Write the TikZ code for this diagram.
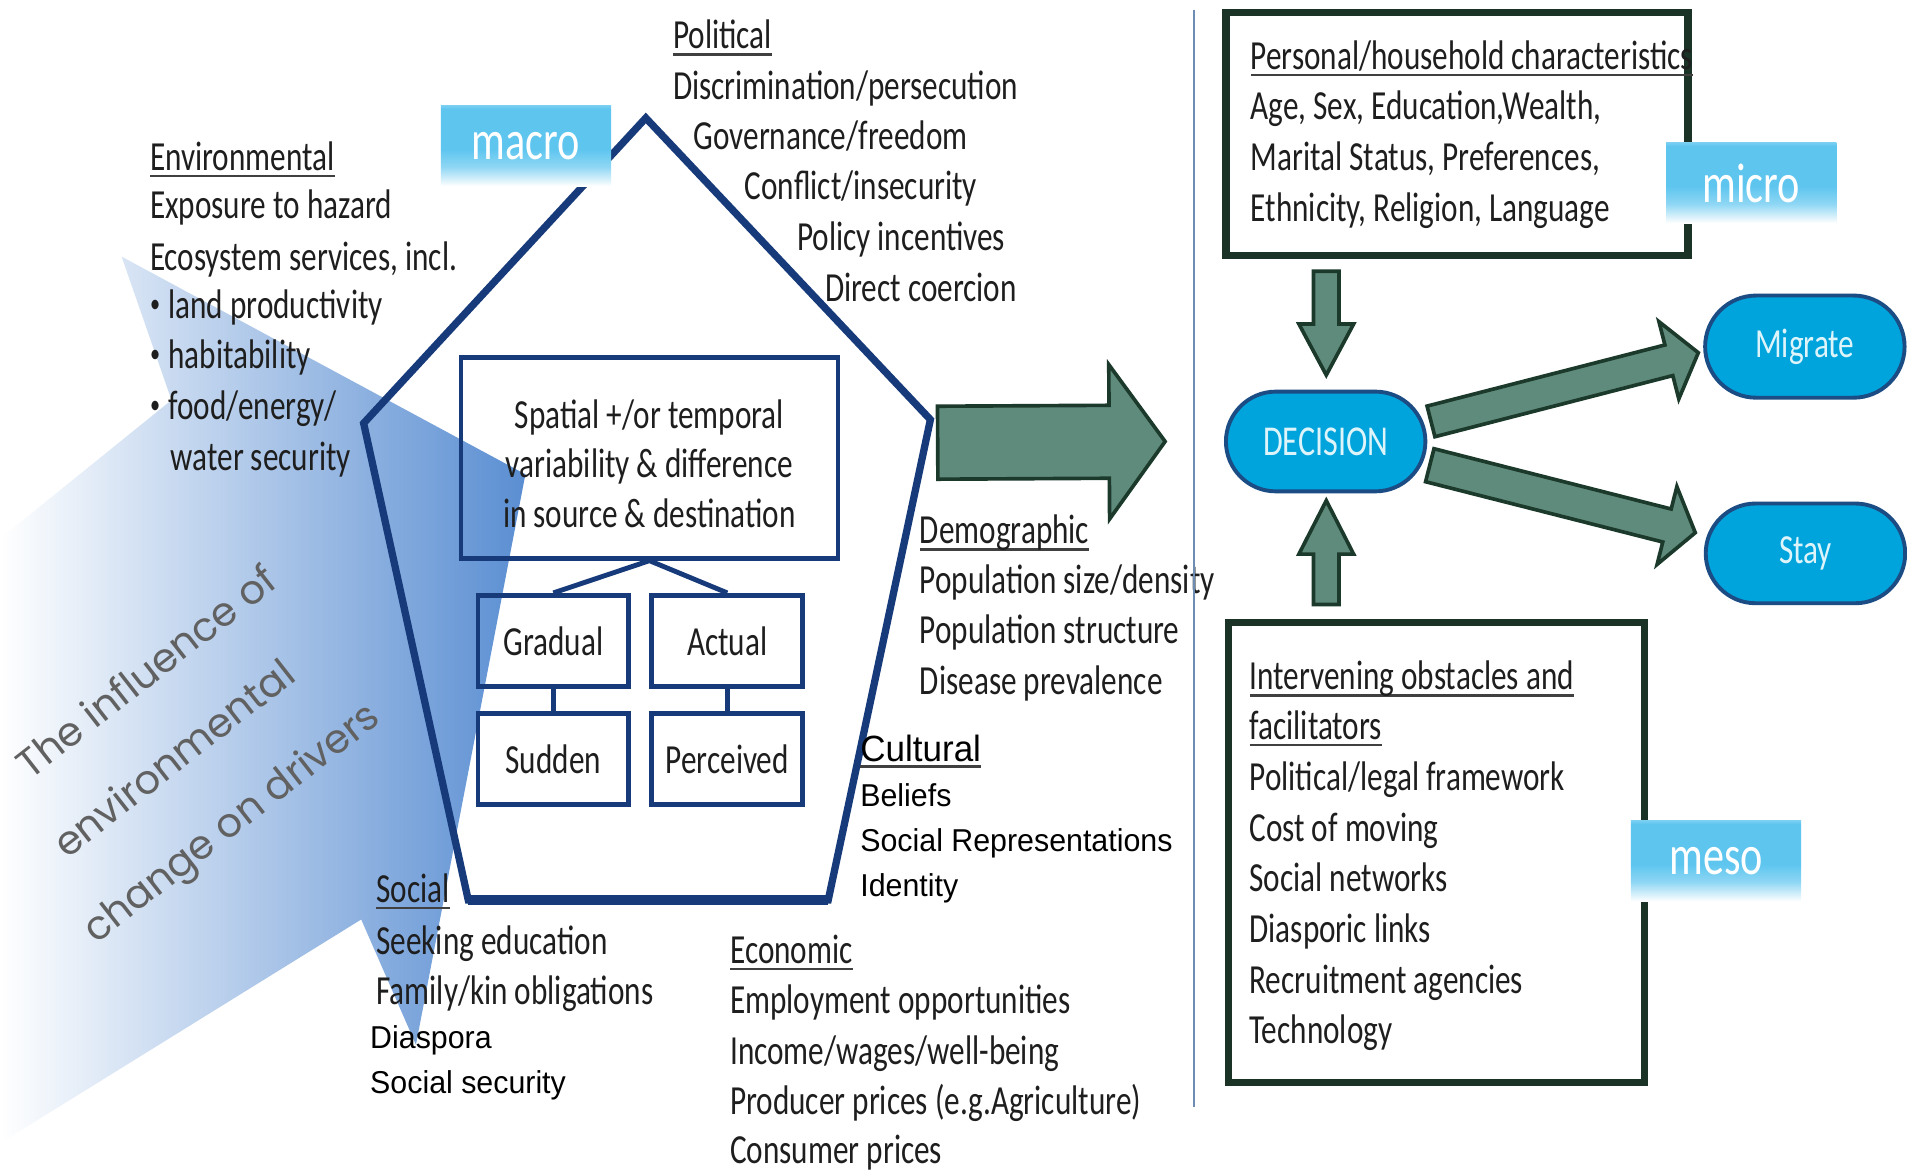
\documentclass[tikz,border=0pt]{standalone}
\usepackage{fontspec}
\setmainfont{Carlito}[FakeStretch=0.755]
\newfontfamily\arialfont{Liberation Sans}[FakeStretch=0.96]
\newfontfamily\gothicfont{Poppins}
\usetikzlibrary{calc,shapes.misc}
\definecolor{navy}{HTML}{173B7A}
\definecolor{arrowfill}{HTML}{5F8B7D}
\definecolor{arrowline}{HTML}{1C3A2C}
\definecolor{boxline}{HTML}{1A3326}
\definecolor{pillfill}{HTML}{00A4DD}
\definecolor{pillline}{HTML}{1B4C84}
\definecolor{lbl}{HTML}{5EC5EF}
\definecolor{shapeblue}{HTML}{5A8ED2}
\definecolor{txtcol}{HTML}{1E1E1E}
\definecolor{divider}{HTML}{6F8DB3}
\definecolor{pilltext}{HTML}{DDF4FB}
\pgfdeclareverticalshading{lblshade}{100bp}{color(0bp)=(white); color(25bp)=(white); color(37bp)=(lbl!70); color(48bp)=(lbl); color(73bp)=(lbl); color(75bp)=(lbl!85); color(100bp)=(lbl!85)}
\newcommand\uln[1]{\setbox0=\hbox{#1}\rlap{\color{black!75}\rule[-0.17em]{\wd0}{0.06em}}\box0}
\newcommand\smbul{\raisebox{0.14em}{\fontsize{11}{11}\selectfont\textbullet}\hspace{0.2em}}
\newcommand\blkarrow[6]{%
  \coordinate (#6h) at ($(#2)!#5!(#1)$);
  \filldraw[blockarrow] ($(#1)!#3!90:(#2)$) -- ($(#6h)!#3!-90:(#1)$) -- ($(#6h)!#4!-90:(#1)$) -- (#2) -- ($(#6h)!#4!90:(#1)$) -- ($(#6h)!#3!90:(#1)$) -- ($(#1)!#3!-90:(#2)$) -- cycle;}
\tikzset{
  mtext/.style={inner sep=0pt, anchor=base west, text=txtcol, font=\fontsize{17}{20.75}\selectfont},
  atext/.style={inner sep=0pt, anchor=base west, text=black, font=\arialfont\fontsize{13}{18.5}\selectfont},
  rtext/.style={inner sep=0pt, anchor=base west, rotate=38, align=left, text=black!62, font=\gothicfont\fontsize{16.5}{35}\selectfont},
  blockarrow/.style={fill=arrowfill, draw=arrowline, line width=1.5pt, line join=miter},
  subbox/.style={draw=navy, line width=2pt, minimum width=62pt, minimum height=37.5pt, inner sep=0pt, text=txtcol, font=\fontsize{17}{20}\selectfont},
  bigbox/.style={draw=boxline, line width=3pt, inner sep=0pt},
  pill/.style={rounded rectangle, draw=pillline, fill=pillfill, line width=1.6pt, minimum width=82pt, minimum height=41pt, inner sep=0pt, text=pilltext, font=\fontsize{17}{17}\selectfont},
  lblbox/.style={shade, shading=lblshade, minimum width=70pt, minimum height=33pt, inner sep=0pt, text=white, font=\fontsize{23}{23}\selectfont},
}
\begin{document}
\begin{tikzpicture}[x=0.5pt, y=-0.5pt]
\useasboundingbox (0,0) rectangle (1568,964.5);
\fill[white] (0,0) rectangle (1568,964.5);
% big blue shape
\shade[left color=white, middle color=shapeblue!55, right color=shapeblue]
  (0,443) -- (141,329) -- (100,211) -- (432,390) -- (342,859) -- (297,756) -- (0,940) -- cycle;
% rotated title
\node[rtext] (infl) at (79,777) {\hspace*{20.25pt}The influence of\\\hspace*{12pt}environmental\\change on drivers};
% pentagon
\coordinate (papex) at (531,97);
\coordinate (pright) at (765,345);
\coordinate (pbr) at (681,740);
\coordinate (pbl) at (385,740);
\coordinate (pleft) at (299,348);
\draw[navy, line width=3pt, line join=miter] (papex) -- (pright) -- (pbr) -- (pbl) -- (pleft) -- cycle;
\draw[navy, line width=4.5pt] (pbl) -- (pbr);
% inner boxes
\node[draw=navy, line width=2pt, minimum width=155pt, minimum height=82.5pt, inner sep=0pt] (spatial) at (534,376.5) {};
\node[inner sep=0pt, anchor=base, text=txtcol, font=\fontsize{17}{20}\selectfont] (sp1) at (534,352) {Spatial +/or temporal};
\node[inner sep=0pt, anchor=base, text=txtcol, font=\fontsize{17}{20}\selectfont] (sp2) at (534,393) {variability \& difference};
\node[inner sep=0pt, anchor=base, text=txtcol, font=\fontsize{17}{20}\selectfont] (sp3) at (534,434) {in source \& destination};
\node[subbox] (gradual) at (455,527) {Gradual};
\node[subbox] (actual) at (598,527) {Actual};
\node[subbox] (sudden) at (455,624) {Sudden};
\node[subbox] (perceived) at (598,624) {Perceived};
\draw[navy, line width=2pt] (gradual.north) -- (spatial.south) -- (actual.north);
\draw[navy, line width=2pt] (gradual.south) -- (sudden.north);
\draw[navy, line width=2pt] (actual.south) -- (perceived.north);
% macro label
\node[lblbox] (macro) at (432.5,120) {macro};
% political
\foreach \x/\y/\t [count=\i] in {553/40/{\uln{Political}}, 553/82/{Discrimination/persecution}, 570/123/{Governance/freedom}, 612/164/{Conflict/insecurity}, 655/206/{Policy incentives}, 678/248/{Direct coercion}}
  \node[mtext] (pol\i) at (\x,\y) {\t};
% environmental
\foreach \x/\y/\t [count=\i] in {123/140/{\uln{Environmental}}, 123/180/{Exposure to hazard}, 123/222/{Ecosystem services, incl.}, 123/262/{\smbul land productivity}, 123/303/{\smbul habitability}, 123/345/{\smbul food/energy/}, 140/387/{water security}}
  \node[mtext] (env\i) at (\x,\y) {\t};
% demographic
\foreach \x/\y/\t [count=\i] in {756/447/{\uln{Demographic}}, 756/488/{Population size/density}, 756/529/{Population structure}, 756/571/{Disease prevalence}}
  \node[mtext] (dem\i) at (\x,\y) {\t};
% cultural
\node[atext, font=\arialfont\fontsize{15}{18}\selectfont] (cul1) at (707,626) {\uln{Cultural}};
\node[atext] (cul2) at (707,663) {Beliefs};
\node[atext] (cul3) at (707,700) {Social Representations};
\node[atext] (cul4) at (707,737) {Identity};
% social
\node[mtext] (soc1) at (309,742) {\uln{Social}};
\node[mtext] (soc2) at (309,785) {Seeking education};
\node[mtext] (soc3) at (309,826) {Family/kin obligations};
\node[atext] (soc4) at (304,862) {Diaspora};
\node[atext] (soc5) at (304,899) {Social security};
% economic
\foreach \x/\y/\t [count=\i] in {600/792/{\uln{Economic}}, 600/833/{Employment opportunities}, 600/875/{Income/wages/well-being}, 600/916/{Producer prices (e.g.Agriculture)}, 600/957/{Consumer prices}}
  \node[mtext] (eco\i) at (\x,\y) {\t};
% big arrow
\coordinate (bigstart) at (771,364);
\coordinate (bigtip) at (958,363);
\blkarrow{bigstart}{bigtip}{15pt}{31.75pt}{23pt}{big}
% divider
\coordinate (divtop) at (982,8);
\coordinate (divbot) at (982,910);
\draw[divider, line width=0.9pt] (divtop) -- (divbot);
% right side boxes
\node[bigbox, minimum width=190pt, minimum height=100pt] (pbox) at (1198,110) {};
\node[bigbox, minimum width=171pt, minimum height=189pt] (mbox) at (1181,701) {};
\node[lblbox] (micro) at (1440,150.5) {micro};
\node[lblbox] (meso) at (1411,708) {meso};
\foreach \x/\y/\t [count=\i] in {1028/57/{\uln{Personal/household characteristics}}, 1028/98/{Age, Sex, Education,Wealth,}, 1028/140/{Marital Status, Preferences,}, 1028/182/{Ethnicity, Religion, Language}}
  \node[mtext] (per\i) at (\x,\y) {\t};
\foreach \x/\y/\t [count=\i] in {1027/567/{\uln{Intervening obstacles and}}, 1027/608/{\uln{facilitators}}, 1027/650/{Political/legal framework}, 1027/692/{Cost of moving}, 1027/733/{Social networks}, 1027/775/{Diasporic links}, 1027/817/{Recruitment agencies}, 1027/858/{Technology}}
  \node[mtext] (mes\i) at (\x,\y) {\t};
% pills
\node[pill, font=\fontsize{17.5}{17.5}\selectfont] (decision) at (1090,363) {DECISION};
\node[pill, minimum height=42pt] (migrate) at (1484,285) {Migrate};
\node[pill] (stay) at (1484.5,455) {Stay};
% vertical arrows
\coordinate (dstart) at ($(pbox.south)+(-107.5,10)$);
\coordinate (dtip) at ($(decision.north)+(0.5,-12)$);
\blkarrow{dstart}{dtip}{5.25pt}{11.25pt}{21pt}{down}
\coordinate (ustart) at ($(mbox.north)+(-90.5,-12)$);
\coordinate (utip) at ($(decision.south)+(0.5,6)$);
\blkarrow{ustart}{utip}{5.25pt}{11.25pt}{22pt}{up}
% decision arrows
\coordinate (mstart) at ($(decision.east)+(3,-16.5)$);
\coordinate (mtip) at ($(migrate.west)+(-4,5)$);
\blkarrow{mstart}{mtip}{6.5pt}{16.4pt}{12.5pt}{mig}
\coordinate (sstart) at ($(decision.east)+(2,19.5)$);
\coordinate (stip) at ($(stay.west)+(-7,-17)$);
\blkarrow{sstart}{stip}{7pt}{16.5pt}{12pt}{sty}
\end{tikzpicture}
\end{document}
